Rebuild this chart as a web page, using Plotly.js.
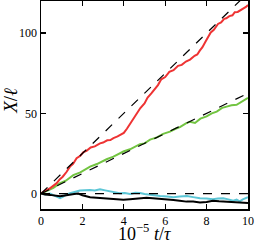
<!DOCTYPE html>
<html><head><meta charset="utf-8">
<script src="https://cdn.plot.ly/plotly-3.0.1.min.js"></script>
<style>html,body{margin:0;padding:0;background:#fff}#chart{width:256px;height:244px}</style>
</head><body><div id="chart"></div>
<script>
// time in units of 1e5 tau
const redT = [0,0.2,0.4,0.6,0.76,0.9,1.05,1.24,1.4,1.55,1.72,1.9,2.05,2.2,2.4,2.6,2.85,3.0,3.2,3.35,3.5,3.7,3.85,4.0,4.15,4.3,4.45,4.6,4.8,5.0,5.15,5.33,5.5,5.65,5.81,6.0,6.2,6.4,6.62,6.8,7.0,7.2,7.42,7.55,7.67,7.8,7.95,8.07,8.2,8.35,8.55,8.7,8.85,8.95,9.1,9.25,9.36,9.5,9.65,9.8,9.9,10];
const redX = [0,1.8,3.0,5.2,6.5,8.8,10.5,13.6,16.8,18.6,22,23.6,25.8,26.6,28.7,29.4,31.3,31.8,33.2,33.4,34.6,35.6,36.9,37.8,40.4,43.2,46.8,49.2,53.3,56.2,59.8,62.4,65.3,67.6,71.2,72.6,75.8,76.9,79.6,80.2,82.3,83.5,85.9,86.7,89.1,91.2,94.8,97.6,100.4,102.1,105.7,106.6,108.9,109.2,110.6,111.1,113.0,113.2,114.4,115.1,116.3,117.5];
const greenT = [0,0.3,0.6,0.92,1.2,1.56,1.9,2.37,2.7,3.17,3.5,3.98,4.3,4.78,5.0,5.27,5.6,5.9,6.23,6.5,6.71,7.0,7.2,7.44,7.7,8.0,8.25,8.49,8.75,8.97,9.2,9.45,9.7,9.9,10];
const greenX = [0,1.9,3.6,6.5,8.0,11.5,13.2,16.8,18.4,21.4,23.0,26.2,27.6,30.8,31.3,33.6,35.0,37.2,38.6,40.4,41.4,43.8,44.8,44.0,46.7,48.1,50.0,51.1,53.4,54.2,55.0,55.3,57.2,58.3,59.6];
const cyanT = [0,0.2,0.43,0.65,0.8,0.92,1.05,1.2,1.4,1.6,1.88,2.1,2.37,2.6,2.85,3.1,3.33,3.55,3.8,4.05,4.3,4.55,4.78,5.0,5.27,5.5,5.75,6.1,6.4,6.7,7.05,7.35,7.68,8.0,8.3,8.55,8.8,9.05,9.29,9.45,9.6,9.75,9.85,10];
const cyanX = [0,-0.5,0,-1.2,-2.2,-2.9,-2.0,-0.8,0.2,1.0,1.9,2.1,2.3,2.0,2.7,2.0,1.3,0.8,0.2,0.4,-0.2,0.5,0.4,-0.3,-0.8,-1.0,-1.5,-1.8,-2.3,-1.8,-1.5,-2.2,-2.9,-3.0,-3.5,-3.0,-2.9,-3.6,-4.4,-3.8,-4.8,-3.6,-2.9,-2.3];
const blackT = [0,0.2,0.43,0.65,0.92,1.15,1.4,1.6,1.8,2.0,2.37,2.7,3.17,3.5,3.98,4.3,4.78,5.1,5.4,5.75,6.1,6.4,6.7,7.03,7.35,7.68,8.0,8.3,8.6,8.97,9.3,9.6,9.8,10];
const blackX = [0,-0.6,-0.8,-1.2,-1.6,-1.2,-0.5,-0.3,0,-1.0,-2.3,-2.6,-2.9,-3.3,-3.8,-3.5,-3.0,-2.6,-2.9,-3.2,-3.8,-4.0,-4.5,-5.0,-5.0,-5.6,-5.2,-4.4,-4.8,-5.0,-5.3,-5.6,-5.8,-5.8];
// dashed reference lines
const fitT = [0,10];
const fitUpper = [0,125];
const fitMiddle = [0,62.5];
const fitZero = [0,0];
const xTicks = [0,2,4,6,8,10];
const yTicks = [0,50,100];
const xTitle = '10<sup>−5</sup> <i>t</i>/<i>τ</i>';
const yTitle = '<i>X</i>/<i>ℓ</i>';

const solid = (x,y,c,w)=>({x:x,y:y,type:'scatter',mode:'lines',line:{color:c,width:w},hoverinfo:'skip'});
const dashed = (x,y)=>({x:x,y:y,type:'scatter',mode:'lines',line:{color:'#000',width:1.2,dash:'dash'},hoverinfo:'skip'});
const data = [
  solid(cyanT,cyanX,'#5cc6d6',2),
  solid(blackT,blackX,'#000000',2),
  solid(greenT,greenX,'#72c441',2),
  solid(redT,redX,'#ee3333',2),
  dashed(fitT,fitUpper),
  dashed(fitT,fitMiddle),
  dashed(fitT,fitZero)
];
const font = {family:'Liberation Serif, DejaVu Serif, serif',color:'#000'};
const layout = {
  width:256,height:244,showlegend:false,
  margin:{l:41,r:8,t:1,b:35},
  paper_bgcolor:'#fff',plot_bgcolor:'#fff',
  font:Object.assign({size:12},font),
  xaxis:{range:[0,10],tickvals:xTicks,ticktext:xTicks.map(String),ticks:'inside',ticklen:5,tickwidth:1.3,tickcolor:'#000',
    showline:true,linecolor:'#000',linewidth:1.5,mirror:'ticks',showgrid:false,zeroline:false,
    tickfont:Object.assign({size:12},font)},
  yaxis:{range:[-9.6,120],tickvals:yTicks,ticktext:yTicks.map(String),ticks:'inside',ticklen:5,tickwidth:1.3,tickcolor:'#000',
    showline:true,linecolor:'#000',linewidth:1.5,mirror:'ticks',showgrid:false,zeroline:false,
    tickfont:Object.assign({size:12},font)},
  annotations:[
    {text:xTitle,xref:'paper',yref:'paper',x:0.5,y:-0.115,xanchor:'center',yanchor:'middle',showarrow:false,
     font:Object.assign({size:18},font)},
    {text:yTitle,xref:'paper',yref:'paper',x:-0.145,y:0.52,xanchor:'center',yanchor:'middle',textangle:-90,showarrow:false,
     font:Object.assign({size:19},font)}
  ]
};
Plotly.newPlot('chart',data,layout,{staticPlot:true,displayModeBar:false});
</script></body></html>
